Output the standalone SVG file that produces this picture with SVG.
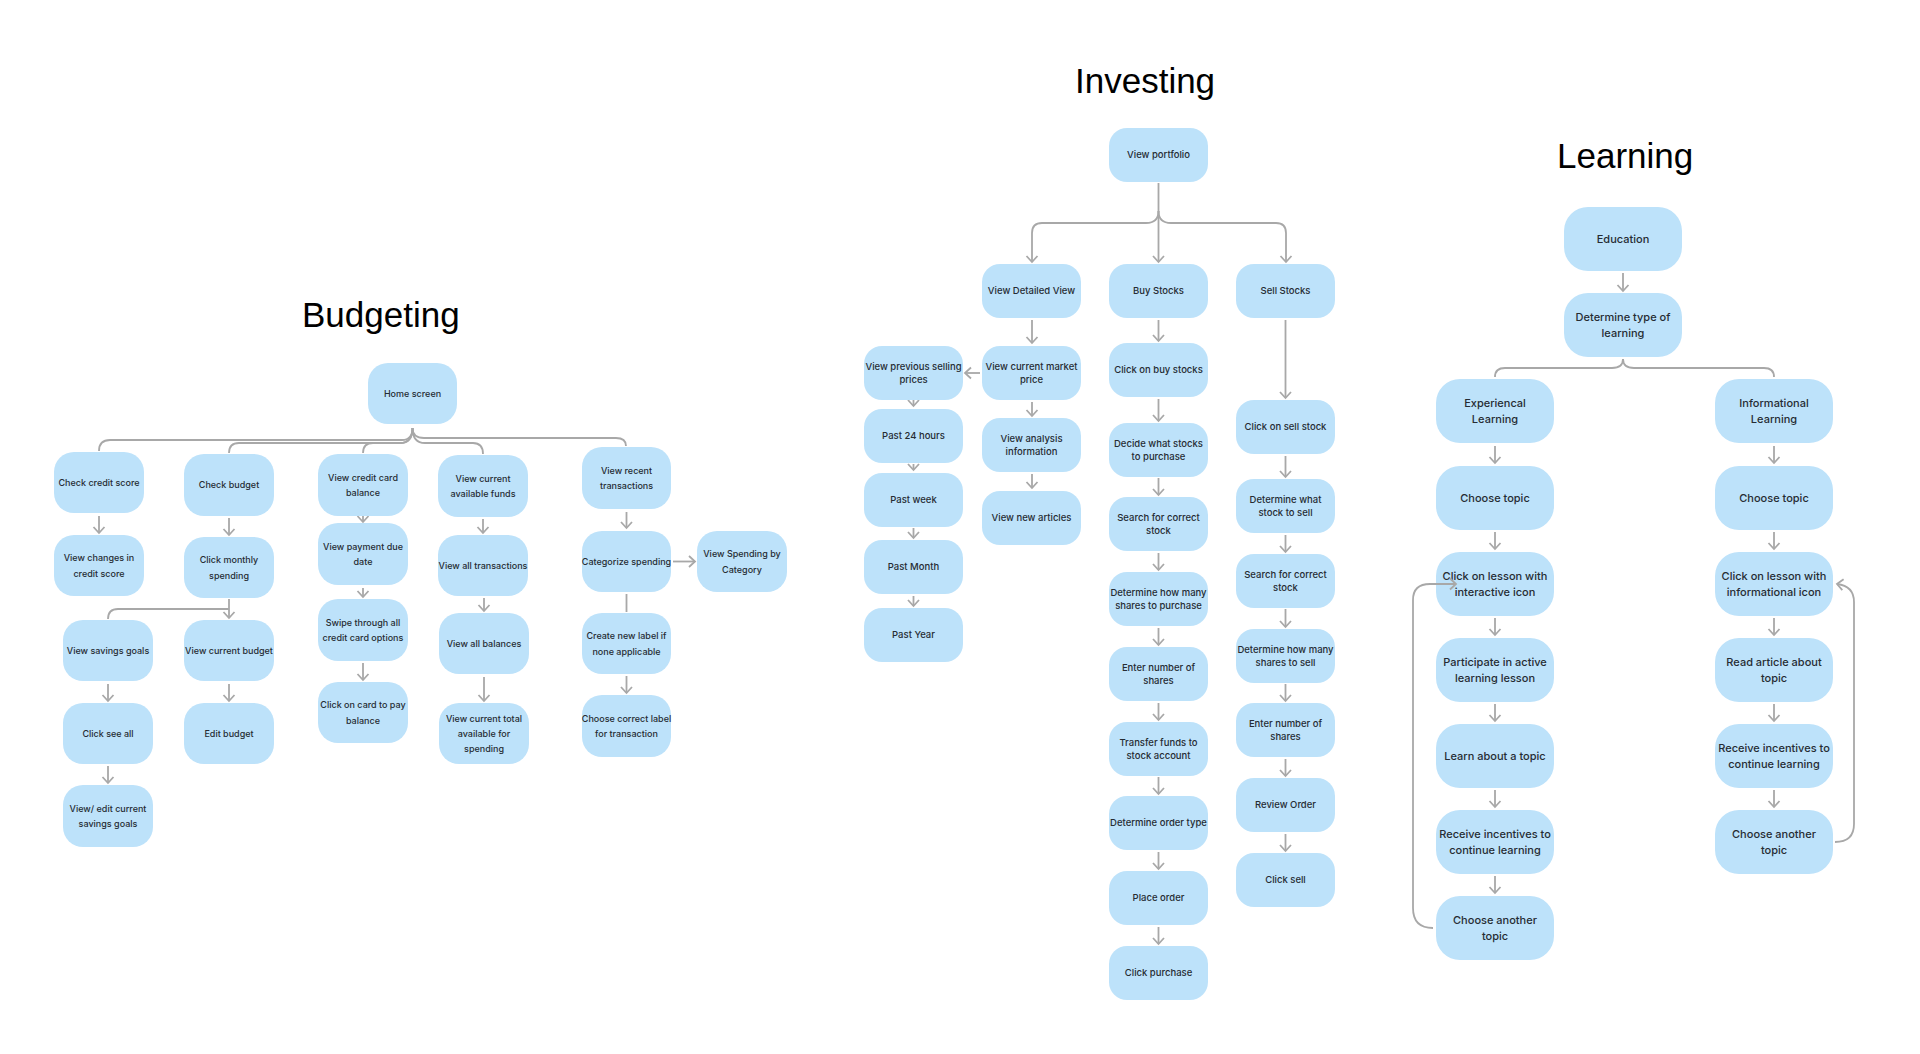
<svg xmlns="http://www.w3.org/2000/svg" width="1920" height="1054" viewBox="0 0 1920 1054">
<style>
.title{font-family:"Liberation Sans",Arial,sans-serif;font-size:35px;fill:#000}
.n{fill:#bde2fa}
.t{font-family:Inter,"Noto Sans",sans-serif;fill:#262c33;text-anchor:middle;font-weight:500}
.b{font-size:9px}
.i{font-size:9.5px}
.l{font-size:11px}
.c{fill:none;stroke:#a8a8a8;stroke-width:1.8}
.a{marker-end:url(#ah)}
</style>
<defs>
<marker id="ah" markerUnits="userSpaceOnUse" viewBox="-8 -7 10 14" refX="0" refY="0" markerWidth="10" markerHeight="14" orient="auto">
<path d="M-6,-5.5 L0,0 L-6,5.5" fill="none" stroke="#a8a8a8" stroke-width="1.8"/>
</marker>
</defs>
<rect width="1920" height="1054" fill="#fff"/>
<text class="title" x="302" y="327">Budgeting</text>
<text class="title" x="1075" y="93">Investing</text>
<text class="title" x="1557" y="168">Learning</text>

<g id="connectors">
<!-- Budgeting -->
<path class="c" d="M412.5 428 Q412.5 440 402 440 H110 Q99 440 99 451"/>
<path class="c" d="M412.5 428 Q412.5 443 400 443 H239 Q229 443 229 453"/>
<path class="c" d="M412.5 428 Q412.5 443 400 443 H373 Q363 443 363 453"/>
<path class="c" d="M412.5 428 Q412.5 443 425 443 H473 Q483 443 483 454"/>
<path class="c" d="M412.5 428 Q412.5 438 424 438 H616 Q626 438 626 446"/>
<path class="c a" d="M99 516 V533"/>
<path class="c a" d="M229 518 V535"/>
<path class="c a" d="M229 599 V618"/>
<path class="c" d="M229 609 H118 Q108 609 108 619"/>
<path class="c a" d="M108 684 V701"/>
<path class="c a" d="M108 766 V783"/>
<path class="c a" d="M229 684 V701"/>
<path class="c a" d="M363 515 V522"/>
<path class="c a" d="M363 588 V597"/>
<path class="c a" d="M363 663 V680"/>
<path class="c a" d="M483 519 V533"/>
<path class="c a" d="M484 598 V611"/>
<path class="c a" d="M484 677 V701"/>
<path class="c a" d="M626.5 512 V528"/>
<path class="c" d="M626.5 594 V612"/>
<path class="c a" d="M626.5 676 V693"/>
<path class="c a" d="M673 561.5 H695"/>
<!-- Investing -->
<path class="c a" d="M1158.5 183 V262"/>
<path class="c a" d="M1158.5 211 Q1158.5 223 1146 223 H1042 Q1032 223 1032 233 V262"/>
<path class="c a" d="M1158.5 211 Q1158.5 223 1171 223 H1276 Q1286 223 1286 233 V262"/>
<path class="c a" d="M1032 320 V343"/>
<path class="c a" d="M980 373 H965"/>
<path class="c a" d="M913.5 400 V406"/>
<path class="c a" d="M913.5 464 V470"/>
<path class="c a" d="M913.5 528 V538"/>
<path class="c a" d="M913.5 596 V606"/>
<path class="c a" d="M1032 402 V416"/>
<path class="c a" d="M1032 474 V488"/>
<path class="c a" d="M1158.5 320 V341"/>
<path class="c a" d="M1158.5 399 V421"/>
<path class="c a" d="M1158.5 478 V495"/>
<path class="c a" d="M1158.5 553 V570"/>
<path class="c a" d="M1158.5 628 V645"/>
<path class="c a" d="M1158.5 703 V720"/>
<path class="c a" d="M1158.5 777 V794"/>
<path class="c a" d="M1158.5 852 V869"/>
<path class="c a" d="M1158.5 927 V944"/>
<path class="c a" d="M1285.5 320 V398"/>
<path class="c a" d="M1285.5 456 V477"/>
<path class="c a" d="M1285.5 535 V552"/>
<path class="c a" d="M1285.5 609 V627"/>
<path class="c a" d="M1285.5 684 V701"/>
<path class="c a" d="M1285.5 759 V776"/>
<path class="c a" d="M1285.5 834 V851"/>
<!-- Learning -->
<path class="c a" d="M1623 273 V291"/>
<path class="c" d="M1623 359 Q1623 368 1612 368 H1505 Q1495 368 1495 377"/>
<path class="c" d="M1623 359 Q1623 368 1634 368 H1764 Q1774 368 1774 377"/>
<path class="c a" d="M1495 446 V463"/>
<path class="c a" d="M1495 532 V549"/>
<path class="c a" d="M1495 618 V635"/>
<path class="c a" d="M1495 704 V721"/>
<path class="c a" d="M1495 790 V807"/>
<path class="c a" d="M1495 876 V893"/>
<path class="c a" d="M1774 446 V463"/>
<path class="c a" d="M1774 532 V549"/>
<path class="c a" d="M1774 618 V635"/>
<path class="c a" d="M1774 704 V721"/>
<path class="c a" d="M1774 790 V807"/>
<path class="c a" d="M1835 842 Q1854 842 1854 824 V602 Q1854 586 1837 584"/>
</g>

<!-- Budgeting nodes -->
<g id="b-home"><rect class="n" x="368" y="363" width="89" height="61" rx="20"/><text class="t b" x="412.5" y="396.8">Home screen</text></g>
<g id="b-credit-score"><rect class="n" x="54" y="452" width="90" height="61" rx="20"/><text class="t b" x="99" y="485.8">Check credit score</text></g>
<g id="b-changes"><rect class="n" x="54" y="535" width="90" height="61" rx="20"/><text class="t b"><tspan x="99" y="561">View changes in</tspan><tspan x="99" y="576.5">credit score</tspan></text></g>
<g id="b-budget"><rect class="n" x="184" y="454" width="90" height="62" rx="20"/><text class="t b" x="229" y="488.3">Check budget</text></g>
<g id="b-monthly"><rect class="n" x="184" y="537" width="90" height="61" rx="20"/><text class="t b"><tspan x="229" y="563">Click monthly</tspan><tspan x="229" y="578.5">spending</tspan></text></g>
<g id="b-savings"><rect class="n" x="63" y="620" width="90" height="61" rx="20"/><text class="t b" x="108" y="653.8">View savings goals</text></g>
<g id="b-seeall"><rect class="n" x="63" y="703" width="90" height="61" rx="20"/><text class="t b" x="108" y="736.8">Click see all</text></g>
<g id="b-editsavings"><rect class="n" x="63" y="785" width="90" height="62" rx="20"/><text class="t b"><tspan x="108" y="811.5">View/ edit current</tspan><tspan x="108" y="827">savings goals</tspan></text></g>
<g id="b-curbudget"><rect class="n" x="184" y="620" width="90" height="61" rx="20"/><text class="t b" x="229" y="653.8">View current  budget</text></g>
<g id="b-editbudget"><rect class="n" x="184" y="703" width="90" height="61" rx="20"/><text class="t b" x="229" y="736.8">Edit budget</text></g>
<g id="b-ccbalance"><rect class="n" x="318" y="454" width="90" height="62" rx="20"/><text class="t b"><tspan x="363" y="480.5">View credit card</tspan><tspan x="363" y="496">balance</tspan></text></g>
<g id="b-duedate"><rect class="n" x="318" y="523" width="90" height="62" rx="20"/><text class="t b"><tspan x="363" y="549.5">View payment due</tspan><tspan x="363" y="565">date</tspan></text></g>
<g id="b-swipe"><rect class="n" x="318" y="599" width="90" height="62" rx="20"/><text class="t b"><tspan x="363" y="625.5">Swipe through all</tspan><tspan x="363" y="641">credit card options</tspan></text></g>
<g id="b-paycard"><rect class="n" x="318" y="682" width="90" height="61" rx="20"/><text class="t b"><tspan x="363" y="708">Click on card to pay</tspan><tspan x="363" y="723.5">balance</tspan></text></g>
<g id="b-funds"><rect class="n" x="438" y="455" width="90" height="62" rx="20"/><text class="t b"><tspan x="483" y="481.5">View current</tspan><tspan x="483" y="497">available funds</tspan></text></g>
<g id="b-alltrans"><rect class="n" x="438" y="535" width="90" height="61" rx="20"/><text class="t b" x="483" y="568.8">View all transactions</text></g>
<g id="b-allbal"><rect class="n" x="439" y="613" width="90" height="61" rx="20"/><text class="t b" x="484" y="646.8">View all balances</text></g>
<g id="b-total"><rect class="n" x="439" y="703" width="90" height="61" rx="20"/><text class="t b"><tspan x="484" y="721.5">View current total</tspan><tspan x="484" y="736.8">available for</tspan><tspan x="484" y="752.1">spending</tspan></text></g>
<g id="b-recent"><rect class="n" x="582" y="447" width="89" height="62" rx="20"/><text class="t b"><tspan x="626.5" y="473.5">View recent</tspan><tspan x="626.5" y="489">transactions</tspan></text></g>
<g id="b-categorize"><rect class="n" x="582" y="531" width="89" height="61" rx="20"/><text class="t b" x="626.5" y="564.8">Categorize spending</text></g>
<g id="b-bycat"><rect class="n" x="697" y="531" width="90" height="61" rx="20"/><text class="t b"><tspan x="742" y="557">View Spending by</tspan><tspan x="742" y="572.5">Category</tspan></text></g>
<g id="b-newlabel"><rect class="n" x="582" y="613" width="89" height="61" rx="20"/><text class="t b"><tspan x="626.5" y="639">Create new label if</tspan><tspan x="626.5" y="654.5">none applicable</tspan></text></g>
<g id="b-correctlabel"><rect class="n" x="582" y="695" width="89" height="62" rx="20"/><text class="t b"><tspan x="626.5" y="721.5">Choose correct label</tspan><tspan x="626.5" y="737">for transaction</tspan></text></g>

<!-- Investing nodes -->
<g id="i-portfolio"><rect class="n" x="1109" y="128" width="99" height="54" rx="18"/><text class="t i" x="1158.5" y="158.4">View portfolio</text></g>
<g id="i-detailed"><rect class="n" x="982" y="264" width="99" height="54" rx="18"/><text class="t i" x="1031.5" y="294.4">View Detailed View</text></g>
<g id="i-buy"><rect class="n" x="1109" y="264" width="99" height="54" rx="18"/><text class="t i" x="1158.5" y="294.4">Buy Stocks</text></g>
<g id="i-sell"><rect class="n" x="1236" y="264" width="99" height="54" rx="18"/><text class="t i" x="1285.5" y="294.4">Sell Stocks</text></g>
<g id="i-market"><rect class="n" x="982" y="346" width="99" height="54" rx="18"/><text class="t i"><tspan x="1031.5" y="369.6">View current market</tspan><tspan x="1031.5" y="383.3">price</tspan></text></g>
<g id="i-previous"><rect class="n" x="864" y="346" width="99" height="54" rx="18"/><text class="t i"><tspan x="913.5" y="369.6">View previous selling</tspan><tspan x="913.5" y="383.3">prices</tspan></text></g>
<g id="i-analysis"><rect class="n" x="982" y="418" width="99" height="54" rx="18"/><text class="t i"><tspan x="1031.5" y="441.6">View analysis</tspan><tspan x="1031.5" y="455.3">information</tspan></text></g>
<g id="i-articles"><rect class="n" x="982" y="491" width="99" height="54" rx="18"/><text class="t i" x="1031.5" y="521.4">View new articles</text></g>
<g id="i-24h"><rect class="n" x="864" y="409" width="99" height="54" rx="18"/><text class="t i" x="913.5" y="439.4">Past 24 hours</text></g>
<g id="i-week"><rect class="n" x="864" y="473" width="99" height="54" rx="18"/><text class="t i" x="913.5" y="503.4">Past week</text></g>
<g id="i-month"><rect class="n" x="864" y="540" width="99" height="54" rx="18"/><text class="t i" x="913.5" y="570.4">Past Month</text></g>
<g id="i-year"><rect class="n" x="864" y="608" width="99" height="54" rx="18"/><text class="t i" x="913.5" y="638.4">Past Year</text></g>
<g id="i-clickbuy"><rect class="n" x="1109" y="343" width="99" height="54" rx="18"/><text class="t i" x="1158.5" y="373.4">Click on buy stocks</text></g>
<g id="i-decide"><rect class="n" x="1109" y="423" width="99" height="54" rx="18"/><text class="t i"><tspan x="1158.5" y="446.6">Decide what stocks</tspan><tspan x="1158.5" y="460.3">to purchase</tspan></text></g>
<g id="i-searchbuy"><rect class="n" x="1109" y="497" width="99" height="54" rx="18"/><text class="t i"><tspan x="1158.5" y="520.6">Search for correct</tspan><tspan x="1158.5" y="534.3">stock</tspan></text></g>
<g id="i-howmanybuy"><rect class="n" x="1109" y="572" width="99" height="54" rx="18"/><text class="t i"><tspan x="1158.5" y="595.6">Determine how many</tspan><tspan x="1158.5" y="609.3">shares to purchase</tspan></text></g>
<g id="i-enterbuy"><rect class="n" x="1109" y="647" width="99" height="54" rx="18"/><text class="t i"><tspan x="1158.5" y="670.6">Enter number of</tspan><tspan x="1158.5" y="684.3">shares</tspan></text></g>
<g id="i-transfer"><rect class="n" x="1109" y="722" width="99" height="54" rx="18"/><text class="t i"><tspan x="1158.5" y="745.6">Transfer funds to</tspan><tspan x="1158.5" y="759.3">stock account</tspan></text></g>
<g id="i-ordertype"><rect class="n" x="1109" y="796" width="99" height="54" rx="18"/><text class="t i" x="1158.5" y="826.4">Determine order type</text></g>
<g id="i-place"><rect class="n" x="1109" y="871" width="99" height="54" rx="18"/><text class="t i" x="1158.5" y="901.4">Place order</text></g>
<g id="i-purchase"><rect class="n" x="1109" y="946" width="99" height="54" rx="18"/><text class="t i" x="1158.5" y="976.4">Click purchase</text></g>
<g id="i-clicksell"><rect class="n" x="1236" y="400" width="99" height="54" rx="18"/><text class="t i" x="1285.5" y="430.4">Click on sell stock</text></g>
<g id="i-whatsell"><rect class="n" x="1236" y="479" width="99" height="54" rx="18"/><text class="t i"><tspan x="1285.5" y="502.6">Determine what</tspan><tspan x="1285.5" y="516.3">stock to sell</tspan></text></g>
<g id="i-searchsell"><rect class="n" x="1236" y="554" width="99" height="54" rx="18"/><text class="t i"><tspan x="1285.5" y="577.6">Search for correct</tspan><tspan x="1285.5" y="591.3">stock</tspan></text></g>
<g id="i-howmanysell"><rect class="n" x="1236" y="629" width="99" height="54" rx="18"/><text class="t i"><tspan x="1285.5" y="652.6">Determine how many</tspan><tspan x="1285.5" y="666.3">shares to sell</tspan></text></g>
<g id="i-entersell"><rect class="n" x="1236" y="703" width="99" height="54" rx="18"/><text class="t i"><tspan x="1285.5" y="726.6">Enter number of</tspan><tspan x="1285.5" y="740.3">shares</tspan></text></g>
<g id="i-review"><rect class="n" x="1236" y="778" width="99" height="54" rx="18"/><text class="t i" x="1285.5" y="808.4">Review Order</text></g>
<g id="i-sellclick"><rect class="n" x="1236" y="853" width="99" height="54" rx="18"/><text class="t i" x="1285.5" y="883.4">Click sell</text></g>

<!-- Learning nodes -->
<g id="l-education"><rect class="n" x="1564" y="207" width="118" height="64" rx="24"/><text class="t l" x="1623" y="243">Education</text></g>
<g id="l-type"><rect class="n" x="1564" y="293" width="118" height="64" rx="24"/><text class="t l"><tspan x="1623" y="320.9">Determine type of</tspan><tspan x="1623" y="337.2">learning</tspan></text></g>
<g id="l-exp"><rect class="n" x="1436" y="379" width="118" height="64" rx="24"/><text class="t l"><tspan x="1495" y="406.9">Experiencal</tspan><tspan x="1495" y="423.2">Learning</tspan></text></g>
<g id="l-inf"><rect class="n" x="1715" y="379" width="118" height="64" rx="24"/><text class="t l"><tspan x="1774" y="406.9">Informational</tspan><tspan x="1774" y="423.2">Learning</tspan></text></g>
<g id="l-exp-topic"><rect class="n" x="1436" y="466" width="118" height="64" rx="24"/><text class="t l" x="1495" y="502">Choose topic</text></g>
<g id="l-exp-lesson"><rect class="n" x="1436" y="552" width="118" height="64" rx="24"/><text class="t l"><tspan x="1495" y="579.9">Click on lesson with</tspan><tspan x="1495" y="596.2">interactive icon</tspan></text></g>
<g id="l-exp-participate"><rect class="n" x="1436" y="638" width="118" height="64" rx="24"/><text class="t l"><tspan x="1495" y="665.9">Participate in active</tspan><tspan x="1495" y="682.2">learning lesson</tspan></text></g>
<g id="l-exp-learn"><rect class="n" x="1436" y="724" width="118" height="64" rx="24"/><text class="t l" x="1495" y="760">Learn about a topic</text></g>
<g id="l-exp-incent"><rect class="n" x="1436" y="810" width="118" height="64" rx="24"/><text class="t l"><tspan x="1495" y="837.9">Receive incentives to</tspan><tspan x="1495" y="854.2">continue learning</tspan></text></g>
<g id="l-exp-another"><rect class="n" x="1436" y="896" width="118" height="64" rx="24"/><text class="t l"><tspan x="1495" y="923.9">Choose another</tspan><tspan x="1495" y="940.2">topic</tspan></text></g>
<g id="l-inf-topic"><rect class="n" x="1715" y="466" width="118" height="64" rx="24"/><text class="t l" x="1774" y="502">Choose topic</text></g>
<g id="l-inf-lesson"><rect class="n" x="1715" y="552" width="118" height="64" rx="24"/><text class="t l"><tspan x="1774" y="579.9">Click on lesson with</tspan><tspan x="1774" y="596.2">informational icon</tspan></text></g>
<g id="l-inf-read"><rect class="n" x="1715" y="638" width="118" height="64" rx="24"/><text class="t l"><tspan x="1774" y="665.9">Read article about</tspan><tspan x="1774" y="682.2">topic</tspan></text></g>
<g id="l-inf-incent"><rect class="n" x="1715" y="724" width="118" height="64" rx="24"/><text class="t l"><tspan x="1774" y="751.9">Receive incentives to</tspan><tspan x="1774" y="768.2">continue learning</tspan></text></g>
<g id="l-inf-another"><rect class="n" x="1715" y="810" width="118" height="64" rx="24"/><text class="t l"><tspan x="1774" y="837.9">Choose another</tspan><tspan x="1774" y="854.2">topic</tspan></text></g>
<g id="loop-connector"><path class="c a" d="M1433 928 Q1413 928 1413 908 V600 Q1413 584 1430 584 H1456"/></g>
</svg>
